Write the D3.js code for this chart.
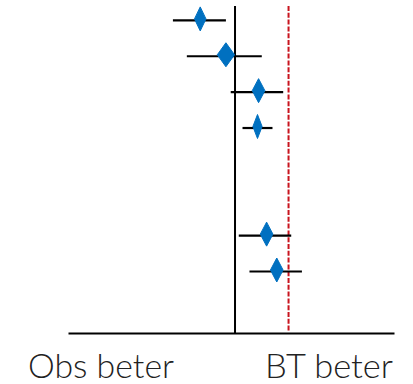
<!DOCTYPE html>
<html>
<head>
<meta charset="utf-8">
<script src="https://cdn.jsdelivr.net/npm/d3@7"></script>
<style>
  html, body { margin: 0; padding: 0; background: #fff; }
  svg { display: block; }
</style>
</head>
<body>
<svg id="chart" width="413" height="384"></svg>
<script>
// ---- data ----
// rows (blank slots are empty rows in the forest plot)
const rows = ["r1", "r2", "r3", "r4", "", " ", "r5", "r6"];
const studies = ["r1", "r2", "r3", "r4", "r5", "r6"];
const estimate = [-0.65, -0.17, 0.44, 0.42, 0.59, 0.78];
const lower    = [-1.16, -0.90, -0.08, 0.14, 0.07, 0.27];
const upper    = [-0.17,  0.50,  0.90, 0.70, 1.05, 1.25];
const weight   = [1.0, 1.5, 1.1, 0.8, 1.1, 1.1];
const nullValue = 0;
const refValue = 1;
const axisLabels = ["Obs beter", "BT beter"];

// ---- layout ----
const W = 413, H = 384;
const svg = d3.select("#chart");

const x = d3.scaleLinear().domain([-3.12, 2.97]).range([68, 394]);
const y = d3.scalePoint().domain(rows).range([20.4, 271.5]);
const wScale = d3.scaleLinear().domain([0, 1]).range([0, 11.5]);
const axisY = 333;
const topY = 6;

// x axis (line only, no ticks)
const xAxis = d3.axisBottom(x).tickValues([]).tickSizeOuter(0);
const ax = svg.append("g").attr("transform", `translate(0,${axisY})`).call(xAxis);
ax.select(".domain").attr("stroke", "#000").attr("stroke-width", 2);

// no-effect line
svg.append("line")
  .attr("x1", x(nullValue)).attr("x2", x(nullValue))
  .attr("y1", topY).attr("y2", axisY)
  .attr("stroke", "#000").attr("stroke-width", 2);

// reference dashed line
svg.append("line")
  .attr("x1", x(refValue)).attr("x2", x(refValue))
  .attr("y1", topY).attr("y2", axisY - 1)
  .attr("stroke", "#C8141E").attr("stroke-width", 2)
  .attr("stroke-dasharray", "5,1.8");

const data = studies.map((s, i) => ({ s, est: estimate[i], lo: lower[i], hi: upper[i], w: weight[i] }));

// CI lines
svg.append("g").selectAll("line").data(data).join("line")
  .attr("x1", d => x(d.lo)).attr("x2", d => x(d.hi))
  .attr("y1", d => y(d.s)).attr("y2", d => y(d.s))
  .attr("stroke", "#000").attr("stroke-width", 2.2);

// diamonds
svg.append("g").selectAll("path").data(data).join("path")
  .attr("d", d => {
    const cx = x(d.est), cy = y(d.s) - 1.5, hw = wScale(d.w) / 2, hh = 12;
    return `M${cx},${cy - hh}L${cx + hw},${cy}L${cx},${cy + hh}L${cx - hw},${cy}Z`;
  })
  .attr("fill", "#0070C0")
  .attr("stroke", "#0070C0").attr("stroke-width", 1).attr("stroke-linejoin", "round");

// bottom labels
const font = "'Segoe UI Light', Lato, 'Open Sans', 'Noto Sans', sans-serif";
svg.append("text").text(axisLabels[0])
  .attr("x", 28).attr("y", 378)
  .attr("font-family", font).attr("font-weight", 300).attr("font-size", 34)
  .attr("fill", "#222").attr("textLength", 146).attr("lengthAdjust", "spacingAndGlyphs");
svg.append("text").text(axisLabels[1])
  .attr("x", 265).attr("y", 378)
  .attr("font-family", font).attr("font-weight", 300).attr("font-size", 34)
  .attr("fill", "#222").attr("textLength", 128).attr("lengthAdjust", "spacingAndGlyphs");
</script>
</body>
</html>
